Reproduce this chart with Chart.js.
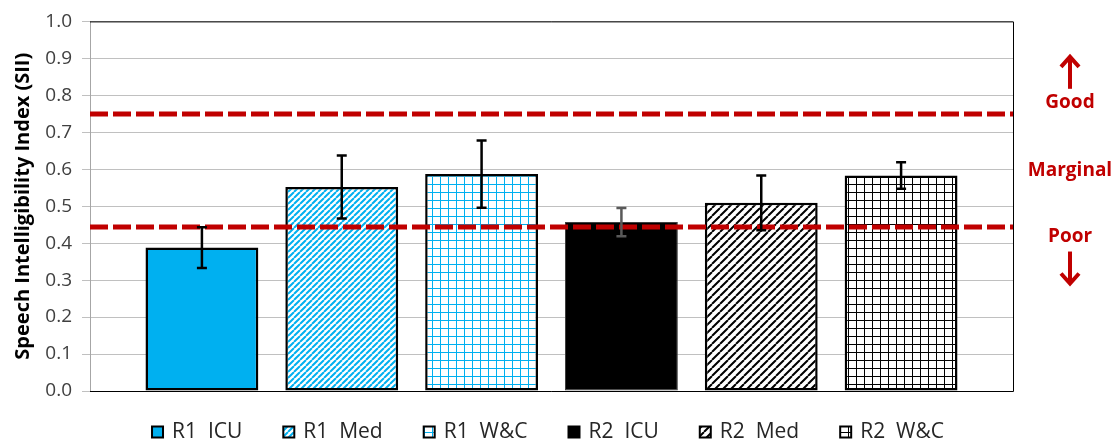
<!DOCTYPE html>
<html><head><meta charset="utf-8">
<script src="https://cdn.jsdelivr.net/npm/chart.js@4.4.1/dist/chart.umd.min.js"></script>
<style>html,body{margin:0;padding:0;background:#fff;overflow:hidden}#wrap{width:1114px;height:444px}</style>
</head><body><div id="wrap"><canvas id="c" width="1114" height="444"></canvas></div>
<script>
// ---- data ----
const seriesNames = ['R1  ICU', 'R1  Med', 'R1  W&C', 'R2  ICU', 'R2  Med', 'R2  W&C'];
const siiMeans  = [0.388, 0.552, 0.587, 0.457, 0.509, 0.583];
const siiErrors = [0.055, 0.085, 0.091, 0.038, 0.074, 0.036];
const yTickLabels = ['0.0','0.1','0.2','0.3','0.4','0.5','0.6','0.7','0.8','0.9','1.0'];
const thresholds = [0.445, 0.75];
const zoneLabels = ['Good', 'Marginal', 'Poor'];
const yTitle = 'Speech Intelligibility Index (SII)';

// ---- styles ----
const RED = '#C00000';
const BLUE = '#00B0F0';
const FONT = "'Open Sans', 'DejaVu Sans', sans-serif";

function diagPattern(color, s, lw) {
  const c = document.createElement('canvas'); c.width = c.height = s;
  const g = c.getContext('2d');
  g.fillStyle = '#fff'; g.fillRect(0, 0, s, s);
  g.strokeStyle = color; g.lineWidth = lw;
  g.beginPath();
  for (let k = -1; k <= 1; k++) { g.moveTo(k * s, s); g.lineTo(k * s + s, 0); }
  g.stroke();
  return g.createPattern(c, 'repeat');
}
function gridPattern(color, s) {
  const c = document.createElement('canvas'); c.width = c.height = s;
  const g = c.getContext('2d');
  g.fillStyle = '#fff'; g.fillRect(0, 0, s, s);
  g.fillStyle = color; g.fillRect(0, 0, s, 1); g.fillRect(0, 0, 1, s);
  return g.createPattern(c, 'repeat');
}
const fills = [BLUE, diagPattern(BLUE, 6, 2), gridPattern(BLUE, 8), '#000', diagPattern('#000', 8, 2), gridPattern('#000', 8)];
const borders = ['#000', '#000', '#000', '#3f3f3f', '#000', '#000'];
const borderWidths = [2.5, 2.5, 2.5, 1, 2.5, 2.5];
const errColors = ['#000', '#000', '#000', '#595959', '#000', '#000'];

const overlay = {
  id: 'overlay',
  afterDatasetsDraw(chart) {
    const { ctx, chartArea: a, scales: { y } } = chart;
    ctx.save();
    // plot border (top, right, bottom)
    ctx.strokeStyle = '#000'; ctx.lineWidth = 1;
    ctx.beginPath();
    ctx.moveTo(a.left, a.top + 0.5); ctx.lineTo(a.right + 0.5, a.top + 0.5);
    ctx.lineTo(a.right + 0.5, a.bottom + 0.5); ctx.lineTo(a.left, a.bottom + 0.5);
    ctx.stroke();
    // threshold dashed lines
    ctx.strokeStyle = RED; ctx.lineWidth = 5; ctx.setLineDash([18, 5]);
    thresholds.forEach(t => {
      const py = Math.round(y.getPixelForValue(t));
      ctx.beginPath(); ctx.moveTo(a.left, py); ctx.lineTo(a.right, py); ctx.stroke();
    });
    ctx.setLineDash([]);
    // error bars
    chart.data.datasets.forEach((ds, i) => {
      const el = chart.getDatasetMeta(i).data[0];
      const m = siiMeans[i], e = siiErrors[i];
      const yt = y.getPixelForValue(m + e), yb = y.getPixelForValue(m - e);
      ctx.strokeStyle = errColors[i]; ctx.lineWidth = 2.5;
      ctx.beginPath();
      ctx.moveTo(el.x, yt); ctx.lineTo(el.x, yb);
      ctx.moveTo(el.x - 5, yt); ctx.lineTo(el.x + 5, yt);
      ctx.moveTo(el.x - 5, yb); ctx.lineTo(el.x + 5, yb);
      ctx.stroke();
    });
    ctx.restore();
  },
  afterDraw(chart) {
    const { ctx, chartArea: a, scales: { y } } = chart;
    ctx.save();
    // zone labels on the right
    const cx = 1070;
    ctx.fillStyle = RED; ctx.strokeStyle = RED;
    ctx.font = 'bold 19px ' + FONT; ctx.textAlign = 'center'; ctx.textBaseline = 'middle';
    const yGood = y.getPixelForValue(thresholds[1]) - 11;
    const yMarg = (y.getPixelForValue(thresholds[0]) + y.getPixelForValue(thresholds[1])) / 2;
    const yPoor = y.getPixelForValue(thresholds[0]) + 10;
    ctx.fillText(zoneLabels[0], cx, yGood);
    ctx.fillText(zoneLabels[1], cx, yMarg);
    ctx.fillText(zoneLabels[2], cx, yPoor);
    ctx.lineWidth = 4; ctx.lineCap = 'butt'; ctx.lineJoin = 'miter';
    // up arrow
    ctx.beginPath();
    ctx.moveTo(cx, yGood - 14); ctx.lineTo(cx, yGood - 44); ctx.stroke();
    ctx.beginPath();
    ctx.moveTo(cx - 9, yGood - 36); ctx.lineTo(cx, yGood - 46); ctx.lineTo(cx + 9, yGood - 36); ctx.stroke();
    // down arrow
    ctx.beginPath();
    ctx.moveTo(cx, yPoor + 15); ctx.lineTo(cx, yPoor + 45); ctx.stroke();
    ctx.beginPath();
    ctx.moveTo(cx - 9, yPoor + 37); ctx.lineTo(cx, yPoor + 47); ctx.lineTo(cx + 9, yPoor + 37); ctx.stroke();

    // legend
    ctx.font = '21px ' + FONT; ctx.textAlign = 'left'; ctx.textBaseline = 'middle';
    const box = 11, gapBT = 9, gapItem = 41;
    const widths = seriesNames.map(n => box + gapBT + ctx.measureText(n).width);
    const total = widths.reduce((s, w) => s + w, 0) + gapItem * (widths.length - 1);
    let x = 548 - total / 2;
    const ly = 432;
    seriesNames.forEach((n, i) => {
      ctx.fillStyle = fills[i];
      ctx.fillRect(x, ly - box / 2, box, box);
      ctx.strokeStyle = '#000'; ctx.lineWidth = 2;
      ctx.strokeRect(x, ly - box / 2, box, box);
      ctx.fillStyle = '#262626';
      ctx.fillText(n, x + box + gapBT, ly);
      x += widths[i] + gapItem;
    });
    ctx.restore();
  }
};

new Chart(document.getElementById('c'), {
  type: 'bar',
  data: {
    labels: [''],
    datasets: seriesNames.map((n, i) => ({
      label: n, data: [siiMeans[i]],
      backgroundColor: fills[i], borderColor: borders[i], borderWidth: borderWidths[i],
      borderSkipped: false
    }))
  },
  options: {
    responsive: false, animation: false,
    layout: { padding: { left: 0, right: 101, top: 19, bottom: 53 } },
    datasets: { bar: { categoryPercentage: 0.909, barPercentage: 0.807 } },
    scales: {
      x: { display: false },
      y: {
        min: 0, max: 1,
        afterFit(s) { s.width = 90; },
        ticks: { stepSize: 0.1, padding: 10, color: '#404040', font: { family: FONT, size: 19 },
          callback: (v, i) => yTickLabels[i] },
        grid: { color: '#c0c0c0', lineWidth: 1, tickLength: 8, drawTicks: true },
        border: { color: '#a6a6a6', width: 1 },
        title: { display: true, text: yTitle, color: '#000', padding: { top: 11, bottom: 0 },
          font: { family: FONT, size: 20, weight: 'bold' } }
      }
    },
    plugins: { legend: { display: false }, tooltip: { enabled: false } }
  },
  plugins: [overlay]
});
</script></body></html>
